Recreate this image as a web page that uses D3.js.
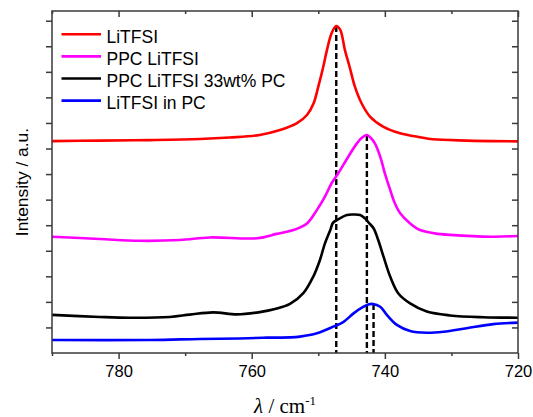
<!DOCTYPE html>
<html>
<head>
<meta charset="utf-8">
<script src="https://cdn.jsdelivr.net/npm/d3@7"></script>
<style>
  html, body { margin: 0; padding: 0; background: #fff; }
  svg { display: block; }
</style>
</head>
<body>
<svg id="chart" width="533" height="417"></svg>
<script>
// Raman spectra (S–N–S band of TFSI) — wavenumber / intensity pairs per sample
const seriesNames = ["LiTFSI", "PPC LiTFSI", "PPC LiTFSI 33wt% PC", "LiTFSI in PC"];
const seriesColors = ["#ff0000", "#ff00ff", "#000000", "#0000ff"];

const waveLiTFSI = [790, 782.8, 775.3, 767.8, 763.3, 758.8, 755.75, 753.2, 751.7, 750.7, 750.0, 749.25, 748.7, 748.0, 747.3, 746.7, 746.0, 745.3, 744.5, 743.5, 742.2, 740.2, 737.7, 734.7, 732.8, 727.7, 720];
const intLiTFSI  = [8.29, 8.31, 8.33, 8.37, 8.43, 8.53, 8.72, 8.99, 9.31, 9.77, 10.42, 11.20, 11.85, 12.51, 12.79, 12.64, 11.85, 11.20, 10.42, 9.77, 9.24, 8.85, 8.60, 8.44, 8.36, 8.31, 8.28];

const wavePPC = [790, 782.8, 776.8, 770.8, 766.3, 759.2, 756.25, 753.75, 751.7, 750.2, 749.0, 748.0, 747.0, 745.5, 744.2, 743.5, 742.7, 742.1, 741.5, 740.7, 740.0, 739.2, 738.5, 737.7, 736.2, 734.7, 732.5, 730.2, 723.8, 720];
const intPPC  = [4.55, 4.46, 4.39, 4.42, 4.52, 4.49, 4.66, 4.81, 5.07, 5.60, 6.12, 6.64, 7.03, 7.68, 8.20, 8.41, 8.53, 8.41, 8.20, 7.68, 7.03, 6.38, 5.86, 5.47, 5.07, 4.81, 4.68, 4.62, 4.55, 4.58];

const wavePPCPC = [790, 782.8, 778.3, 772.3, 769.3, 765.8, 762.2, 758.8, 756.5, 754.25, 752.25, 750.75, 749.75, 749.0, 748.2, 747.8, 747.2, 745.7, 744.8, 743.7, 743.0, 742.4, 741.7, 741.0, 740.2, 739.2, 738.0, 736.2, 733.7, 730.2, 725.2, 720];
const intPPCPC  = [1.49, 1.41, 1.38, 1.41, 1.50, 1.59, 1.51, 1.60, 1.72, 1.92, 2.34, 2.99, 3.64, 4.29, 4.81, 5.09, 5.20, 5.40, 5.42, 5.40, 5.27, 5.09, 4.88, 4.42, 3.77, 2.99, 2.34, 1.94, 1.62, 1.47, 1.40, 1.38];

const waveInPC = [790, 775.3, 767.8, 761.8, 757.75, 754.25, 752.75, 750.2, 747.75, 746.2, 744.7, 743.2, 742.5, 741.8, 740.7, 739.7, 738.2, 736.2, 733.7, 731.2, 727.7, 723.7, 720];
const intInPC  = [0.51, 0.51, 0.55, 0.57, 0.60, 0.61, 0.64, 0.77, 1.03, 1.22, 1.55, 1.81, 1.90, 1.92, 1.81, 1.49, 1.10, 0.86, 0.79, 0.83, 0.97, 1.13, 1.19];

// Peak markers (dashed verticals): position and the intensity where each starts
const peakWave = [747.3, 742.7, 741.7];
const peakTop  = [12.79, 8.53, 1.92];

const xTicksMajor = [780, 760, 740, 720];
const xTicksMinor = [790, 770, 750, 730];
const yTickValues = d3.range(0, 14);

const svg = d3.select("#chart");
const margin = { left: 52, right: 15, top: 11, bottom: 64 };
const W = 533, H = 417;
const x0 = margin.left, x1 = W - margin.right;
const y0 = H - margin.bottom, y1 = margin.top;

const x = d3.scaleLinear().domain([790, 720]).range([x0, x1]);
const y = d3.scaleLinear().domain([0, 13.38]).range([y0, y1]);

const frameColor = "#3a3a3a";

// Curves
const allSeries = [
  { w: waveLiTFSI, v: intLiTFSI },
  { w: wavePPC, v: intPPC },
  { w: wavePPCPC, v: intPPCPC },
  { w: waveInPC, v: intInPC }
];

const line = d3.line()
  .x(d => x(d[0]))
  .y(d => y(d[1]))
  .curve(d3.curveCatmullRom.alpha(0.5));

const plot = svg.append("g");

// Dashed peak markers
plot.selectAll("line.peak")
  .data(peakWave.map((w, i) => ({ w, top: peakTop[i] })))
  .join("line")
  .attr("class", "peak")
  .attr("x1", d => x(d.w)).attr("x2", d => x(d.w))
  .attr("y1", d => y(d.top)).attr("y2", y(0))
  .attr("stroke", "#000")
  .attr("stroke-width", 2.4)
  .attr("stroke-dasharray", "6,3");

plot.selectAll("path.spec")
  .data(allSeries)
  .join("path")
  .attr("class", "spec")
  .attr("fill", "none")
  .attr("stroke", (d, i) => seriesColors[i])
  .attr("stroke-width", 2.6)
  .attr("stroke-linejoin", "round")
  .attr("d", d => line(d.w.map((w, i) => [w, d.v[i]])));

// Axes
const axisFont = "'Liberation Sans', Arial, sans-serif";

const bottomMajor = d3.axisBottom(x).tickValues(xTicksMajor).tickSize(6).tickPadding(6).tickFormat(d3.format("d"));
const bottomMinor = d3.axisBottom(x).tickValues(xTicksMinor).tickSize(3).tickFormat("");
const topMajor = d3.axisBottom(x).tickValues(xTicksMajor).tickSize(6).tickFormat("");
const topMinor = d3.axisBottom(x).tickValues(xTicksMinor).tickSize(3).tickFormat("");
const leftAx = d3.axisLeft(y).tickValues(yTickValues.slice(1)).tickSize(6).tickFormat("");
const rightAx = d3.axisLeft(y).tickValues(yTickValues.slice(1)).tickSize(6).tickFormat("");

function styleAxis(g) {
  g.select(".domain").remove();
  g.selectAll(".tick line").attr("stroke", frameColor).attr("stroke-width", 1.5);
  g.selectAll(".tick text")
    .attr("fill", "#000")
    .style("font-family", axisFont)
    .style("font-size", "16.5px");
}

svg.append("g").attr("transform", `translate(0,${y0})`).call(bottomMajor).call(styleAxis);
svg.append("g").attr("transform", `translate(0,${y0})`).call(bottomMinor).call(styleAxis);
svg.append("g").attr("transform", `translate(0,${y1})`).call(topMajor).call(styleAxis);
svg.append("g").attr("transform", `translate(0,${y1})`).call(topMinor).call(styleAxis);
svg.append("g").attr("transform", `translate(${x0},0)`).call(leftAx).call(styleAxis);
svg.append("g").attr("transform", `translate(${x1},0)`).call(rightAx).call(styleAxis);

// Frame
svg.append("rect")
  .attr("x", x0).attr("y", y1)
  .attr("width", x1 - x0).attr("height", y0 - y1)
  .attr("fill", "none")
  .attr("stroke", frameColor)
  .attr("stroke-width", 1.5);

// Axis titles
const xt = svg.append("text")
  .attr("x", (x0 + x1) / 2)
  .attr("y", 413)
  .attr("text-anchor", "middle")
  .style("font-family", "'Liberation Serif', 'Times New Roman', serif")
  .style("font-size", "21px")
  .attr("fill", "#000");
xt.append("tspan").style("font-style", "italic").text("λ");
xt.append("tspan").text(" / cm");
xt.append("tspan").attr("dy", -8).style("font-size", "13px").text("-1");

svg.append("text")
  .attr("transform", `translate(28,${(y0 + y1) / 2}) rotate(-90)`)
  .attr("text-anchor", "middle")
  .style("font-family", axisFont)
  .style("font-size", "17.4px")
  .attr("fill", "#000")
  .text("Intensity / a.u.");

// Legend
const legend = svg.append("g");
const legY0 = 34.3, legStep = 22.1;
seriesNames.forEach((name, i) => {
  const ly = legY0 + i * legStep;
  legend.append("line")
    .attr("x1", 61.5).attr("x2", 101)
    .attr("y1", ly).attr("y2", ly)
    .attr("stroke", seriesColors[i])
    .attr("stroke-width", 2.6);
  legend.append("text")
    .attr("x", 106.5).attr("y", ly + 8.2)
    .style("font-family", axisFont)
    .style("font-size", "17.5px")
    .attr("fill", "#000")
    .text(name);
});
</script>
</body>
</html>
